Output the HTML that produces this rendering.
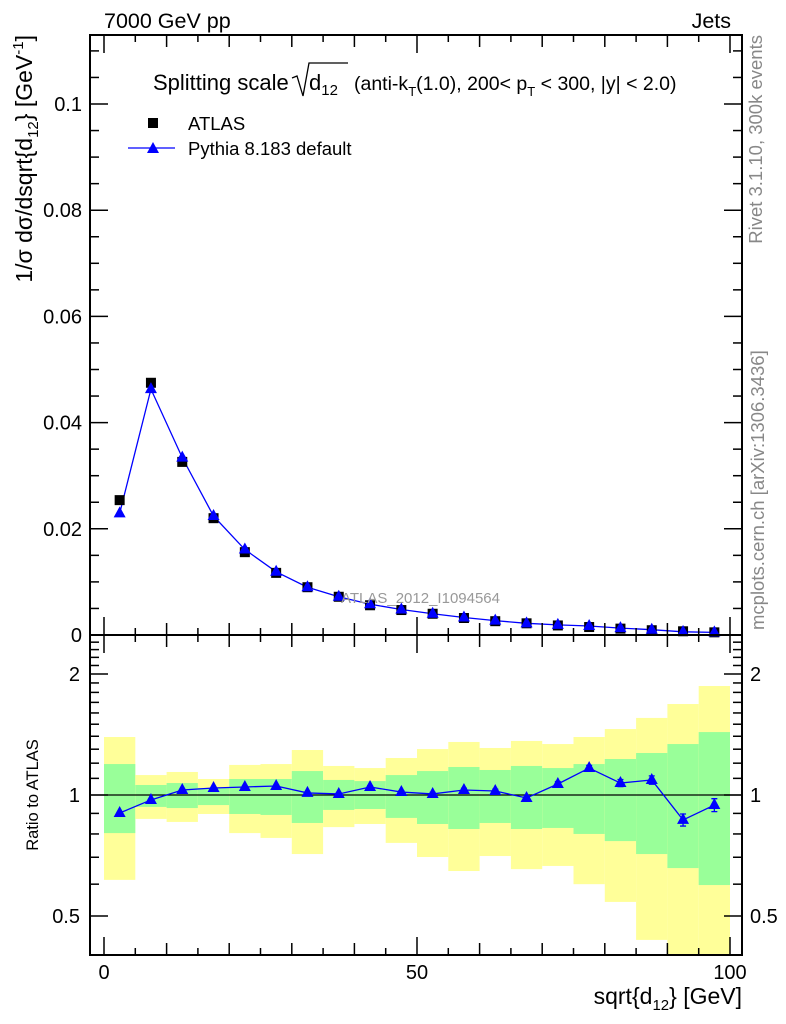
<!DOCTYPE html>
<html><head><meta charset="utf-8"><style>
body{margin:0;background:#fff}
svg{display:block;font-family:"Liberation Sans",sans-serif}
</style></head><body>
<svg id="c" width="786" height="1024" viewBox="0 0 786 1024">
<text x="104" y="28" font-size="21.5">7000 GeV pp</text>
<text x="731" y="28" font-size="21.5" text-anchor="end">Jets</text>
<text transform="translate(762,35) rotate(-90)" font-size="18.5" fill="#888" text-anchor="end">Rivet 3.1.10,  300k events</text>
<text transform="translate(764,630) rotate(-90)" font-size="18.5" fill="#888">mcplots.cern.ch [arXiv:1306.3436]</text>
<g id="gtop"></g><g id="gbot"></g>
<text x="153" y="90" font-size="22">Splitting scale</text>
<path d="M292,78 L297,76 L303,96 L309,63 L348,63" stroke="#000" fill="none" stroke-width="1.3"/>
<text x="309" y="90" font-size="22">d<tspan font-size="15" dy="5">12</tspan></text>
<text x="354" y="90" font-size="19.5">(anti-k<tspan font-size="13" dy="6">T</tspan><tspan dy="-6">(1.0), 200&lt; p</tspan><tspan font-size="13" dy="6">T</tspan><tspan dy="-6"> &lt; 300, |y| &lt; 2.0)</tspan></text>
<rect x="148" y="118" width="10" height="10" fill="#000"/>
<text x="188" y="130" font-size="18.5">ATLAS</text>
<line x1="128" y1="148" x2="175" y2="148" stroke="#00f" stroke-width="1.3"/>
<polygon points="147,153 153,142 159,153" fill="#00f"/>
<text x="188" y="155" font-size="18.5">Pythia 8.183 default</text>
<text x="500" y="603" font-size="15" fill="#999" text-anchor="end">ATLAS_2012_I1094564</text>
<text transform="translate(32,35) rotate(-90)" font-size="23" text-anchor="end">1/σ dσ/dsqrt{d<tspan font-size="15" dy="6">12</tspan><tspan dy="-6">} [GeV</tspan><tspan font-size="15" dy="-9">-1</tspan><tspan dy="9">]</tspan></text>
<text transform="translate(38,795) rotate(-90)" font-size="16.5" text-anchor="middle">Ratio to ATLAS</text>
<text x="742" y="1004" font-size="23" text-anchor="end">sqrt{d<tspan font-size="15" dy="6">12</tspan><tspan dy="-6">} [GeV]</tspan></text>
</svg>
<script>
const binLo=[0,5,10,15,20,25,30,35,40,45,50,55,60,65,70,75,80,85,90,95];
const atlas=[0.0254,0.0475,0.0326,0.0220,0.0156,0.0117,0.0090,0.0072,0.0056,0.0047,0.0040,0.0032,0.0026,0.0022,0.0018,0.0015,0.0012,0.0009,0.0007,0.0005];
const pythia=[0.0229,0.0463,0.0334,0.0224,0.0161,0.0119,0.0090,0.0072,0.0058,0.0048,0.0040,0.0033,0.0027,0.0022,0.0019,0.0017,0.0013,0.0010,0.0006,0.0005];
const ratio=[0.902,0.972,1.029,1.041,1.047,1.053,1.012,1.006,1.047,1.017,1.006,1.029,1.023,0.983,1.065,1.167,1.071,1.090,0.867,0.944];
const ratioErr=[0.004,0.004,0.004,0.004,0.005,0.005,0.006,0.006,0.007,0.008,0.009,0.010,0.011,0.013,0.015,0.018,0.022,0.026,0.030,0.035];
const greenHi=[1.194,1.059,1.071,1.041,1.096,1.096,1.147,1.090,1.083,1.121,1.147,1.174,1.154,1.181,1.167,1.194,1.229,1.272,1.339,1.434];
const greenLo=[0.804,0.934,0.928,0.944,0.897,0.892,0.852,0.918,0.923,0.877,0.847,0.823,0.852,0.823,0.828,0.800,0.768,0.713,0.658,0.597];
const yellowHi=[1.394,1.121,1.141,1.096,1.188,1.194,1.294,1.181,1.167,1.236,1.301,1.355,1.309,1.363,1.339,1.394,1.459,1.555,1.684,1.867];
const yellowLo=[0.615,0.872,0.857,0.897,0.804,0.782,0.713,0.832,0.847,0.760,0.701,0.647,0.705,0.654,0.666,0.600,0.542,0.436,0.35,0.35];
const xTicks=[0,50,100];
const yTicks=[0,0.02,0.04,0.06,0.08,0.1];
const yTickLabels=["0","0.02","0.04","0.06","0.08","0.1"];
const rTicks=[0.5,1,2];
const rTickLabels=["0.5","1","2"];

const NS="http://www.w3.org/2000/svg";
const L=90,R=742,T1=35,B1=635,B2=955;
const X=v=>104+v*6.26;
const Y=v=>635-v*5310;
const RY=v=>795-121*Math.log2(v);
function mk(p,tag,a){const e=document.createElementNS(NS,tag);for(const k in a)e.setAttribute(k,a[k]);p.appendChild(e);return e;}
const gTop=document.getElementById('gtop'),gBot=document.getElementById('gbot');
const clip=mk(document.getElementById('c'),'clipPath',{id:'cb'});mk(clip,'rect',{x:L,y:B1,width:R-L,height:B2-B1});
const bands=mk(gBot,'g',{'clip-path':'url(#cb)'});
binLo.forEach((b,i)=>{
 const x0=X(b),x1=X(b+5);
 const y=mk(bands,'rect',{x:x0,y:RY(yellowHi[i]),width:x1-x0,height:RY(yellowLo[i])-RY(yellowHi[i]),fill:'#ffff99'});
 
 
 const g=mk(bands,'rect',{x:x0,y:RY(greenHi[i]),width:x1-x0,height:RY(greenLo[i])-RY(greenHi[i]),fill:'#99ff99'});
 
 
});
mk(gBot,'line',{x1:L,x2:R,y1:RY(1),y2:RY(1),stroke:'#000','stroke-width':1.3});
mk(gTop,'polyline',{points:binLo.map((b,i)=>X(b+2.5)+','+Y(pythia[i])).join(' '),fill:'none',stroke:'#00f','stroke-width':1.3});
binLo.forEach((b,i)=>{
 const s=mk(gTop,'rect',{x:X(b+2.5)-5,y:Y(atlas[i])-5,width:10,height:10,fill:'#000'});
 
 
});
binLo.forEach((b,i)=>{
 const cx=X(b+2.5),cy=Y(pythia[i]);
 const t=mk(gTop,'polygon',{points:`${cx-6},${cy+4} ${cx},${cy-7} ${cx+6},${cy+4}`,fill:'#00f'});
 
 
});
mk(gBot,'polyline',{points:binLo.map((b,i)=>X(b+2.5)+','+RY(ratio[i])).join(' '),fill:'none',stroke:'#00f','stroke-width':1.3});
binLo.forEach((b,i)=>{
 const cx=X(b+2.5),y1=RY(ratio[i]+ratioErr[i]),y2=RY(ratio[i]-ratioErr[i]);
 const e=mk(gBot,'path',{d:`M${cx},${y1}V${y2}M${cx-3},${y1}H${cx+3}M${cx-3},${y2}H${cx+3}`,stroke:'#00f','stroke-width':1.3,fill:'none'});
 
 
 const cy=RY(ratio[i]);
 const t=mk(gBot,'polygon',{points:`${cx-6},${cy+4} ${cx},${cy-7} ${cx+6},${cy+4}`,fill:'#00f'});
 
 
});
[[T1,B1],[B1,B2]].forEach(([a,b],k)=>{
 const p=k?gBot:gTop;
 const f=mk(p,'rect',{x:L,y:a,width:R-L,height:b-a,fill:'none',stroke:'#000','stroke-width':2});
 
 
 for(let v=0;v<=100;v+=5){const x=X(v),len=v%50==0?18:(v%10==0?12:7);
  mk(p,'line',{x1:x,x2:x,y1:b,y2:b-len,stroke:'#000','stroke-width':1.5});
  mk(p,'line',{x1:x,x2:x,y1:a,y2:a+len,stroke:'#000','stroke-width':1.5});}
});
for(let v=0;v<=0.112;v+=0.005){const y=Y(v),len=Math.abs(v/0.02-Math.round(v/0.02))<1e-6?18:9;
 mk(gTop,'line',{x1:L,x2:L+len,y1:y,y2:y,stroke:'#000','stroke-width':1.5});
 mk(gTop,'line',{x1:R,x2:R-len,y1:y,y2:y,stroke:'#000','stroke-width':1.5});}
[0.4,0.5,0.6,0.7,0.8,0.9,1,1.1,1.2,1.3,1.4,1.5,1.6,1.7,1.8,1.9,2,2.1,2.2,2.3,2.4].forEach(v=>{const y=RY(v);if(y<B1||y>B2)return;const len=rTicks.includes(v)?18:9;
 mk(gBot,'line',{x1:L,x2:L+len,y1:y,y2:y,stroke:'#000','stroke-width':1.5});
 mk(gBot,'line',{x1:R,x2:R-len,y1:y,y2:y,stroke:'#000','stroke-width':1.5});});
yTicks.forEach((v,i)=>{const t=mk(gTop,'text',{x:82,y:Y(v)+7,'font-size':20,'text-anchor':'end'});t.textContent=yTickLabels[i];
 
 });
rTicks.forEach((v,i)=>{[[80,'end'],[750,'start']].forEach(([x,an])=>{const t=mk(gBot,'text',{x:x,y:RY(v)+7,'font-size':20,'text-anchor':an});t.textContent=rTickLabels[i];
 
 });});
xTicks.forEach(v=>{const t=mk(gBot,'text',{x:X(v),y:979,'font-size':20,'text-anchor':'middle'});t.textContent=v;
 
 });
</script>
</body></html>
